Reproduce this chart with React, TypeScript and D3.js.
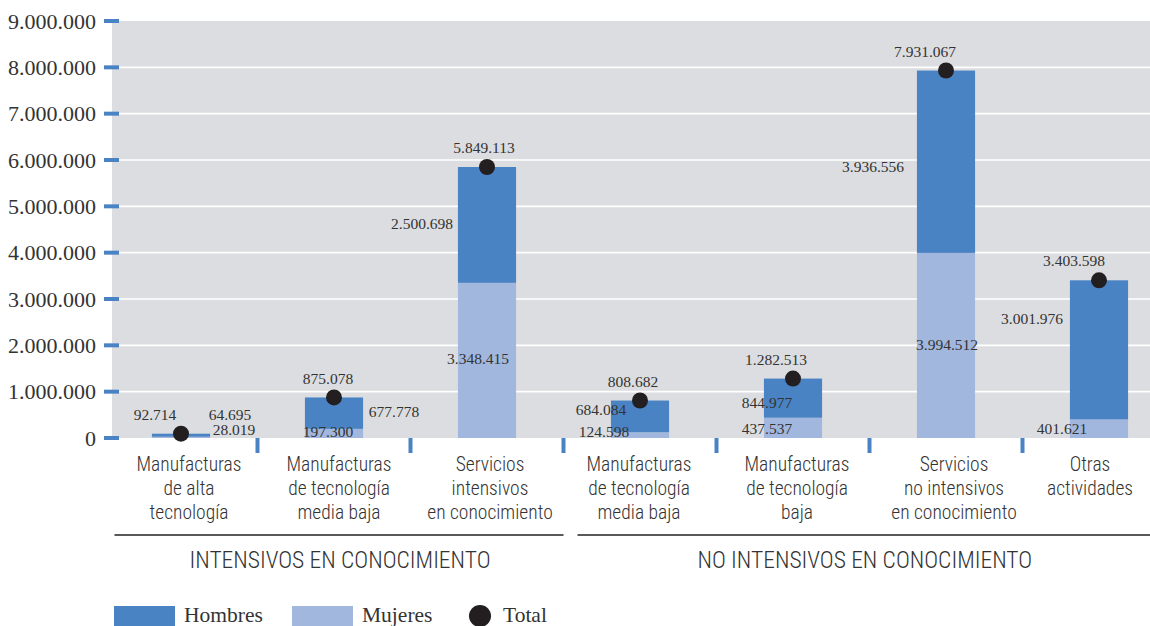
import React from "react";
import * as d3 from "d3";

const categories = [
  "Manufacturas de alta tecnología",
  "Manufacturas de tecnología media baja (I)",
  "Servicios intensivos en conocimiento",
  "Manufacturas de tecnología media baja (NI)",
  "Manufacturas de tecnología baja",
  "Servicios no intensivos en conocimiento",
  "Otras actividades",
];
const categoryLines = [
  ["Manufacturas", "de alta", "tecnología"],
  ["Manufacturas", "de tecnología", "media baja"],
  ["Servicios", "intensivos", "en conocimiento"],
  ["Manufacturas", "de tecnología", "media baja"],
  ["Manufacturas", "de tecnología", "baja"],
  ["Servicios", "no intensivos", "en conocimiento"],
  ["Otras", "actividades"],
];
const mujeres = [28019, 197300, 3348415, 124598, 437537, 3994512, 401621];
const hombres = [64695, 677778, 2500698, 684084, 844977, 3936556, 3001976];
const totales = [92714, 875078, 5849113, 808682, 1282513, 7931067, 3403598];
const groupLabels = ["INTENSIVOS EN CONOCIMIENTO", "NO INTENSIVOS EN CONOCIMIENTO"];
const groupRanges = [[0, 2], [3, 6]];
const yTicks = [0, 1000000, 2000000, 3000000, 4000000, 5000000, 6000000, 7000000, 8000000, 9000000];
const legendItems = ["Hombres", "Mujeres", "Total"];

// label placement offsets (style only)
const totalOffset = [[-26, -14], [-6, -13.5], [-3, -14], [-7, -14], [-17, -14], [-21, -14], [-25, -14]];
const hombresOffset = [[49, -15], [60, 4], [-65, 4], [-39, -1], [-26, 10], [-73, 10], [-67, -26]];
const mujeresOffset = [[53, -2], [-6, 4], [-9, 4], [-36, 2], [-26, 6], [1, 5], [-37, 5]];
const catLabelShift = [8, 5, 3, -1, 4, 8, -9];

const W = 1150;
const H = 626;
const C_H = "#4a83c4";
const C_M = "#a2b7dd";
const BG = "#dcdde0";
const DOT = "#231f20";
const TXT = "#333333";
const SERIF = "'Liberation Serif', 'Times New Roman', serif";
const SANS = "'Roboto Condensed', 'Liberation Sans Narrow', Roboto, sans-serif";

const locale = d3.formatLocale({ decimal: ",", thousands: ".", grouping: [3], currency: ["", ""] });
const fmt = locale.format(",d");

export default function App() {
  const plotLeft = 112;
  const plotTop = 21;
  const plotBottom = 438;
  const y = d3.scaleLinear().domain([0, 9000000]).range([plotBottom, plotTop]);
  const x = d3.scaleBand<string>().domain(categories).range([104.5, 1175.5]).paddingInner(0.62).paddingOuter(0.31);
  const step = x.step();
  const bw = x.bandwidth();
  const cx = (i: number) => (x(categories[i]) as number) + bw / 2;
  const boundary = (i: number) => cx(i) + step / 2;

  return (
    <svg width={W} height={H} style={{ position: "absolute", left: 0, top: 0 }}>
      <rect x={plotLeft} y={plotTop} width={W - plotLeft} height={plotBottom - plotTop} fill={BG} />
      {yTicks.slice(1, -1).map((t) => (
        <line key={"g" + t} x1={plotLeft} x2={W} y1={y(t)} y2={y(t)} stroke="#fff" strokeWidth={1.6} />
      ))}
      {yTicks.map((t) => (
        <g key={"t" + t}>
          <line x1={104} x2={119} y1={y(t)} y2={y(t)} stroke={C_H} strokeWidth={4} />
          <text x={96} y={y(t)} dy="0.35em" textAnchor="end" fontFamily={SERIF} fontSize={22} fill={TXT}>
            {fmt(t)}
          </text>
        </g>
      ))}
      {categories.map((c, i) => (
        <g key={c}>
          <rect x={x(c)} y={y(mujeres[i])} width={bw} height={plotBottom - y(mujeres[i])} fill={C_M} />
          <rect
            x={x(c)}
            y={y(mujeres[i] + hombres[i])}
            width={bw}
            height={y(mujeres[i]) - y(mujeres[i] + hombres[i])}
            fill={C_H}
          />
        </g>
      ))}
      {categories.map((c, i) => (
        <circle key={"d" + c} cx={cx(i)} cy={y(totales[i])} r={8} fill={DOT} />
      ))}
      {categories.map((c, i) => {
        const midH = (y(mujeres[i]) + y(mujeres[i] + hombres[i])) / 2;
        const midM = (plotBottom + y(mujeres[i])) / 2;
        return (
          <g key={"l" + c} fontFamily={SERIF} fontSize={15.5} fill={TXT} textAnchor="middle">
            <text x={cx(i) + totalOffset[i][0]} y={y(totales[i]) + totalOffset[i][1]}>{fmt(totales[i])}</text>
            <text x={cx(i) + hombresOffset[i][0]} y={midH + hombresOffset[i][1]}>{fmt(hombres[i])}</text>
            <text x={cx(i) + mujeresOffset[i][0]} y={midM + mujeresOffset[i][1]}>{fmt(mujeres[i])}</text>
          </g>
        );
      })}
      {categories.slice(0, -1).map((c, i) => (
        <line key={"s" + c} x1={boundary(i)} x2={boundary(i)} y1={plotBottom} y2={453} stroke={C_H} strokeWidth={4} />
      ))}
      {categoryLines.map((lines, i) => {
        const lx = cx(i) + catLabelShift[i];
        return (
          <text key={"c" + i} x={lx} y={471} textAnchor="middle" fontFamily={SANS} fontWeight={300} fontSize={19.5} fill={TXT}>
            {lines.map((ln, k) => (
              <tspan key={k} x={lx} dy={k === 0 ? 0 : 24}>
                {ln}
              </tspan>
            ))}
          </text>
        );
      })}
      {groupLabels.map((g, gi) => {
        const [a, b] = groupRanges[gi];
        const x1 = gi === 0 ? cx(a) - step / 2 + 10 : cx(a) - step / 2 + 14;
        const x2 = Math.min(cx(b) + step / 2, W);
        return (
          <g key={g}>
            <line x1={x1} x2={x2} y1={535} y2={535} stroke="#222" strokeWidth={1.5} />
            <text x={(x1 + x2) / 2 + 1} y={568} textAnchor="middle" fontFamily={SANS} fontWeight={300} fontSize={23.5} fill={TXT}>
              {g}
            </text>
          </g>
        );
      })}
      <g fontFamily={SERIF} fontSize={21.5} fill={TXT}>
        <rect x={114} y={606} width={61} height={20} fill={C_H} />
        <text x={184} y={622}>{legendItems[0]}</text>
        <rect x={292} y={606} width={61} height={20} fill={C_M} />
        <text x={362} y={622}>{legendItems[1]}</text>
        <circle cx={480} cy={616} r={11} fill={DOT} />
        <text x={503} y={622}>{legendItems[2]}</text>
      </g>
    </svg>
  );
}
